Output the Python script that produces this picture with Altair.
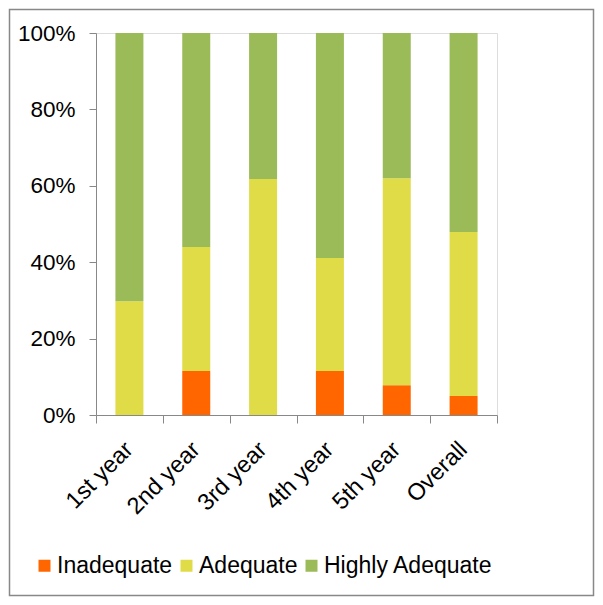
import altair as alt
import pandas as pd

categories = ["1st year", "2nd year", "3rd year", "4th year", "5th year", "Overall"]
series = ["Inadequate", "Adequate", "Highly Adequate"]
inadequate = [0.0, 11.5, 0.0, 11.5, 7.8, 5.0]
adequate = [29.8, 32.5, 61.8, 29.6, 54.2, 42.9]
highly = [70.2, 56.0, 38.2, 58.9, 38.0, 52.1]
colors = ["#FF6600", "#E0DC48", "#9BBB59"]

rows = []
for i, c in enumerate(categories):
    for j, (s, vals) in enumerate(zip(series, [inadequate, adequate, highly])):
        rows.append({"cat": c, "series": s, "value": vals[i] / 100.0, "ord": j})
df = pd.DataFrame(rows)

FONT = "Liberation Sans"

bars = alt.Chart(df).mark_bar(size=28).encode(
    x=alt.X("cat:N", sort=categories, title=None,
            scale=alt.Scale(paddingInner=0, paddingOuter=0),
            axis=alt.Axis(labelAngle=-45, labelFontSize=23.5, labelFont=FONT,
                          labelColor="#000", tickBand="extent", tickSize=8,
                          tickColor="#888", domainColor="#888", labelPadding=14,
                          labelOffset=-9)),
    y=alt.Y("value:Q", stack="zero", title=None,
            scale=alt.Scale(domain=[0, 1], nice=False),
            axis=alt.Axis(format="%", values=[0, 0.2, 0.4, 0.6, 0.8, 1.0], grid=False,
                          labelFontSize=22.5, labelFont=FONT, labelColor="#000",
                          tickSize=7, tickColor="#888", domainColor="#888",
                          labelPadding=14)),
    color=alt.Color("series:N", sort=series,
                    scale=alt.Scale(domain=series, range=colors),
                    legend=alt.Legend(orient="none", direction="horizontal", title=None,
                                      legendX=-63, legendY=521, symbolType="square",
                                      symbolSize=144, symbolStrokeWidth=0,
                                      labelFontSize=23, labelFont=FONT, labelColor="#000",
                                      labelOffset=1, columnPadding=2, labelLimit=0)),
    order=alt.Order("ord:Q", sort="ascending"),
)

border = alt.Chart(alt.Data(values=[{}])).mark_rect(
    fillOpacity=0, stroke="#888888", strokeWidth=1.5
).encode(
    x=alt.value(-86.5), x2=alt.value(497.5), y=alt.value(-23.5), y2=alt.value(562.5)
)

chart = alt.layer(border, bars).properties(
    width=401, height=382,
    autosize=alt.AutoSizeParams(type="none"),
    padding={"left": 88, "top": 25, "right": 98, "bottom": 182},
).configure_view(stroke=None).configure(background="white")

chart.save("out.html", embed_options={"renderer": "svg", "actions": False})
